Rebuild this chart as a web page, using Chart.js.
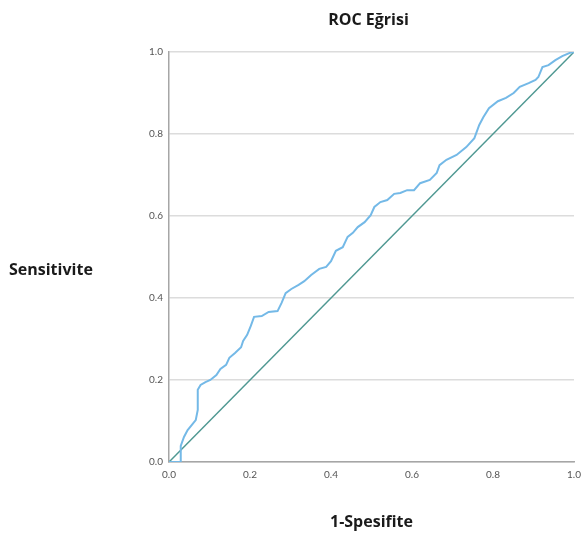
<!DOCTYPE html>
<html>
<head>
<meta charset="utf-8">
<title>ROC Eğrisi</title>
<script src="https://cdn.jsdelivr.net/npm/chart.js@4.4.1/dist/chart.umd.min.js"></script>
<style>
  html, body { margin: 0; padding: 0; background: #fff; }
  #wrap { width: 588px; height: 541px; position: relative; }
</style>
</head>
<body>
<div id="wrap"><canvas id="roc"></canvas></div>
<script>
// ROC curve points (1-specificity, sensitivity)
const fpr = [0, 0.029, 0.029, 0.037, 0.046, 0.056, 0.066, 0.071, 0.071, 0.078, 0.090, 0.102,
  0.117, 0.127, 0.141, 0.149, 0.163, 0.178, 0.183, 0.193, 0.202, 0.210, 0.229, 0.246, 0.268,
  0.278, 0.288, 0.302, 0.320, 0.334, 0.351, 0.371, 0.388, 0.400, 0.412, 0.429, 0.441, 0.454,
  0.466, 0.483, 0.498, 0.507, 0.522, 0.539, 0.556, 0.571, 0.588, 0.605, 0.620, 0.644, 0.661,
  0.668, 0.685, 0.710, 0.734, 0.754, 0.766, 0.776, 0.790, 0.812, 0.832, 0.851, 0.866, 0.888,
  0.905, 0.912, 0.922, 0.937, 0.954, 0.971, 0.990, 1];
const tpr = [0, 0, 0.039, 0.061, 0.078, 0.090, 0.102, 0.127, 0.176, 0.188, 0.195, 0.200,
  0.212, 0.227, 0.237, 0.254, 0.266, 0.280, 0.295, 0.310, 0.332, 0.354, 0.356, 0.366, 0.368,
  0.388, 0.412, 0.422, 0.432, 0.441, 0.456, 0.471, 0.476, 0.490, 0.515, 0.524, 0.549, 0.559,
  0.573, 0.585, 0.602, 0.622, 0.634, 0.639, 0.654, 0.656, 0.663, 0.663, 0.680, 0.688, 0.705,
  0.724, 0.737, 0.749, 0.768, 0.790, 0.822, 0.841, 0.863, 0.880, 0.888, 0.900, 0.915, 0.924,
  0.932, 0.939, 0.963, 0.968, 0.980, 0.990, 0.998, 1];
// reference (chance) line
const refX = [0, 1];
const refY = [0, 1];
const ticks = [0, 0.2, 0.4, 0.6, 0.8, 1.0];

const titleText = 'ROC Eğrisi';
const xTitle = '1-Spesifite';
const yTitle = 'Sensitivite';

const LABEL_FONT = '"Open Sans", sans-serif';
const TICK_FONT = 'Lato, "Open Sans", sans-serif';

function toPts(xs, ys) { return xs.map((x, i) => ({ x, y: ys[i] })); }

// title centred over the plot, y label written horizontally at the left
const sideLabels = {
  id: 'sideLabels',
  afterDraw(chart) {
    const { ctx, chartArea } = chart;
    ctx.save();
    ctx.font = 'bold 16px ' + LABEL_FONT;
    ctx.fillStyle = '#1a1a1a';
    ctx.textBaseline = 'middle';
    ctx.textAlign = 'center';
    ctx.fillText(titleText, (chartArea.left + chartArea.right) / 2 - 3, 20);
    ctx.textAlign = 'left';
    ctx.fillText(yTitle, 9, (chartArea.top + chartArea.bottom) / 2 + 13);
    ctx.restore();
  }
};

new Chart(document.getElementById('roc'), {
  type: 'scatter',
  data: {
    datasets: [
      { label: 'ROC', data: toPts(fpr, tpr), showLine: true, borderColor: '#74b9e7',
        borderWidth: 2, pointRadius: 0, tension: 0, fill: false },
      { label: 'Referans', data: toPts(refX, refY), showLine: true, borderColor: '#4f9892',
        borderWidth: 1.5, pointRadius: 0, fill: false },
    ]
  },
  options: {
    responsive: true,
    maintainAspectRatio: false,
    animation: false,
    layout: { padding: { left: 139, right: 9, top: 52, bottom: 0 } },
    plugins: {
      legend: { display: false },
      tooltip: { enabled: false },
      title: { display: false }
    },
    scales: {
      x: {
        type: 'linear', min: 0, max: 1,
        afterBuildTicks(s) { s.ticks = ticks.map(v => ({ value: v })); },
        afterFit(s) { s.height = 79; },
        grid: { display: false, drawTicks: false },
        border: { display: true, color: '#a6a6a6', width: 1.5 },
        ticks: { color: '#555', padding: 7, font: { family: TICK_FONT, size: 10 },
          callback: v => v.toFixed(1) },
        title: { display: true, text: xTitle, color: '#1a1a1a',
          font: { family: LABEL_FONT, size: 16, weight: 'bold' }, padding: { top: 0, bottom: 9 } }
      },
      y: {
        type: 'linear', min: 0, max: 1,
        afterBuildTicks(s) { s.ticks = ticks.map(v => ({ value: v })); },
        afterFit(s) { s.width = 30; },
        grid: { color: '#dcdcdc', lineWidth: 1.5, drawTicks: false },
        border: { display: true, color: '#a6a6a6', width: 1.5 },
        ticks: { color: '#555', padding: 6, font: { family: TICK_FONT, size: 10 },
          callback: v => v.toFixed(1) }
      }
    }
  },
  plugins: [sideLabels]
});
</script>
</body>
</html>
